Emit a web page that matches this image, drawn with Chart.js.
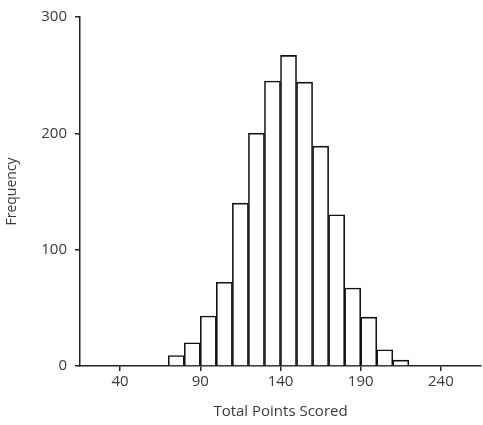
<!DOCTYPE html>
<html>
<head>
<meta charset="utf-8">
<script src="https://cdn.jsdelivr.net/npm/chart.js@4.4.1/dist/chart.umd.min.js"></script>
<style>
  body { margin: 0; background: #fff; }
  #wrap { width: 483px; height: 425px; position: relative; }
</style>
</head>
<body>
<div id="wrap"><canvas id="histChart"></canvas></div>
<script>
// Histogram data: bins of 10 points, labelled by their centre
var binCenters = [75, 85, 95, 105, 115, 125, 135, 145, 155, 165, 175, 185, 195, 205, 215];
var frequencies = [9, 20, 43, 72, 140, 200, 245, 267, 244, 189, 130, 67, 42, 14, 5];
var xTicks = [40, 90, 140, 190, 240];
var yTicks = [0, 100, 200, 300];

var fontFamily = '"Open Sans", "Noto Sans", sans-serif';
var textColor = '#3a3a3a';
var axisColor = '#222';

var points = binCenters.map(function (x, i) { return { x: x, y: frequencies[i] }; });

var ctx = document.getElementById('histChart').getContext('2d');
new Chart(ctx, {
  type: 'bar',
  data: {
    datasets: [{
      data: points,
      backgroundColor: '#fff',
      borderColor: '#111',
      borderWidth: 1.6,
      barPercentage: 1,
      categoryPercentage: 1
    }]
  },
  options: {
    responsive: true,
    maintainAspectRatio: false,
    animation: false,
    layout: { padding: { top: 15, right: 2, left: 0, bottom: 0 } },
    plugins: { legend: { display: false }, tooltip: { enabled: false } },
    scales: {
      x: {
        type: 'linear',
        min: 15,
        max: 265,
        offset: false,
        afterBuildTicks: function (scale) {
          scale.ticks = xTicks.map(function (v) { return { value: v }; });
        },
        afterFit: function (scale) { scale.height = 59; },
        border: { display: true, color: axisColor, width: 1.5 },
        grid: { display: true, offset: false, drawOnChartArea: false, drawTicks: true, tickLength: 5, color: axisColor, lineWidth: 1.5 },
        ticks: { color: textColor, font: { family: fontFamily, size: 15 }, padding: 2, maxRotation: 0 },
        title: { display: true, text: 'Total Points Scored', color: textColor, font: { family: fontFamily, size: 15 }, padding: { top: 4 } }
      },
      y: {
        min: 0,
        max: 300,
        afterBuildTicks: function (scale) {
          scale.ticks = yTicks.map(function (v) { return { value: v }; });
        },
        afterFit: function (scale) { scale.width = 80; },
        border: { display: true, color: axisColor, width: 1.5 },
        grid: { display: true, drawOnChartArea: false, drawTicks: true, tickLength: 5, color: axisColor, lineWidth: 1.5 },
        ticks: { color: textColor, font: { family: fontFamily, size: 15 }, padding: 8 },
        title: { display: true, text: 'Frequency', color: textColor, font: { family: fontFamily, size: 14 }, padding: { bottom: 16 } }
      }
    }
  }
});
</script>
</body>
</html>
